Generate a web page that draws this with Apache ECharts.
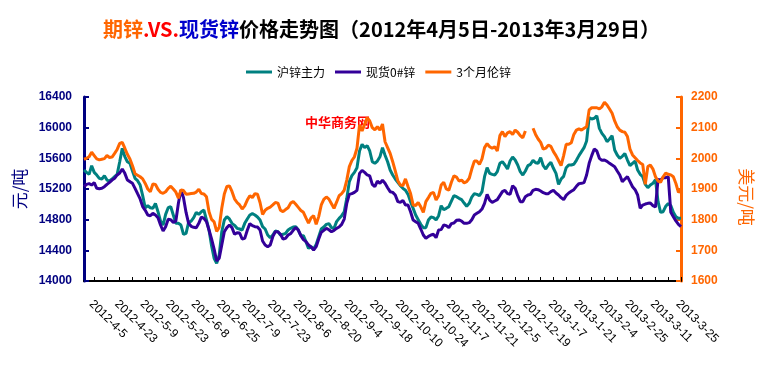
<!DOCTYPE html>
<html>
<head>
<meta charset="utf-8">
<script src="https://cdn.jsdelivr.net/npm/echarts@6/dist/echarts.min.js"></script>
<style>html,body{margin:0;padding:0;background:#fff}#c{width:763px;height:369px}</style>
</head>
<body>
<div id="c"></div>
<script>
// Axis date labels (one every 10 trading days)
const dateLabels = ['2012-4-5','2012-4-23','2012-5-9','2012-5-23','2012-6-8','2012-6-25','2012-7-9','2012-7-23','2012-8-6','2012-8-20','2012-9-4','2012-9-18','2012-10-10','2012-10-24','2012-11-7','2012-11-21','2012-12-5','2012-12-19','2013-1-7','2013-1-21','2013-2-4','2013-2-25','2013-3-11','2013-3-25'];
const seriesNames = ['沪锌主力','现货0#锌','3个月伦锌'];

// 沪锌主力 (元/吨)
const shfeZinc = [
15448,15417,15391,15504,15417,15382,15339,15330,15374,15317,
15304,15330,15361,15391,15556,15730,15622,15556,15535,15435,
15339,15309,15252,15113,14956,14982,14956,14948,15013,14904,
14782,14730,14869,14956,14969,14861,14752,14752,14730,14609,
14622,14765,14782,14826,14895,14869,14904,14926,14796,14665,
14461,14296,14230,14339,14643,14796,14839,14809,14752,14726,
14687,14678,14665,14752,14808,14861,14878,14861,14835,14796,
14709,14678,14600,14565,14600,14652,14643,14600,14609,14622,
14665,14687,14704,14709,14665,14591,14591,14513,14426,14448,
14417,14478,14578,14678,14704,14739,14748,14696,14687,14774,
14817,14852,14904,15078,15296,15374,15417,15478,15696,15783,
15739,15765,15696,15556,15535,15565,15620,15740,15640,15556,
15448,15382,15330,15287,15243,15209,15183,15130,15035,14948,
14861,14800,14739,14696,14696,14796,14835,14826,14796,14852,
14982,14930,14948,14969,15043,15113,15100,15078,15061,15017,
14974,15013,15095,15139,15130,15113,15165,15361,15478,15404,
15391,15382,15426,15535,15556,15513,15461,15565,15617,15578,
15513,15426,15382,15435,15504,15522,15574,15543,15535,15609,
15504,15461,15513,15548,15470,15404,15261,15330,15365,15478,
15513,15513,15522,15574,15635,15687,15739,15826,16130,16113,
16122,16156,15991,15926,15883,15817,15852,15896,15709,15643,
15600,15626,15661,15578,15504,15535,15565,15448,15391,15361,
15261,15217,15252,15274,15322,15035,14896,14904,14974,15009,
14983,14896,14839,14817,14817
];

// 现货0#锌 (元/吨)
const spotZinc = [
15230,15261,15270,15252,15282,15209,15204,15209,15230,15261,
15287,15317,15339,15383,15409,15461,15404,15317,15296,15274,
15209,15139,15070,14970,14922,14861,14852,14882,14861,14826,
14730,14652,14708,14804,14800,14765,14782,15013,15187,15087,
14895,14752,14713,14700,14695,14752,14835,14817,14774,14665,
14548,14417,14261,14296,14470,14643,14696,14730,14696,14609,
14630,14626,14548,14556,14661,14748,14722,14709,14704,14665,
14522,14470,14448,14470,14578,14643,14643,14609,14548,14556,
14600,14617,14661,14696,14665,14591,14539,14513,14470,14443,
14404,14448,14548,14635,14661,14687,14669,14643,14661,14687,
14704,14739,14808,15013,15130,15139,15156,15183,15404,15443,
15417,15383,15370,15261,15230,15304,15274,15313,15274,15217,
15165,15156,15122,15035,15026,15052,14991,14991,14904,14796,
14774,14752,14678,14600,14556,14583,14600,14609,14565,14665,
14670,14730,14722,14696,14748,14756,14791,14796,14782,14752,
14752,14761,14800,14861,14883,14904,14939,15013,15130,15056,
15026,15043,15061,15113,15165,15183,15139,15130,15243,15209,
15113,15035,15035,15100,15122,15130,15183,15196,15191,15174,
15152,15139,15139,15165,15183,15148,15122,15087,15061,15117,
15148,15170,15191,15235,15270,15274,15283,15383,15535,15635,
15722,15696,15600,15574,15578,15561,15535,15513,15491,15435,
15383,15296,15330,15361,15296,15230,15191,15122,14948,14991,
15004,15013,15017,14983,14965,15326,15317,15348,15348,15361,
14896,14839,14783,14739,14709
];

// 3个月伦锌 (美元/吨)
const lmeZinc = [
1997,2000,2005,2020,2009,1998,1995,1997,1999,2009,
2003,2004,2016,2029,2049,2052,2033,2013,1998,1976,
1950,1945,1940,1933,1918,1900,1891,1916,1915,1899,
1889,1886,1891,1902,1909,1900,1890,1870,1897,1895,
1883,1884,1885,1886,1890,1899,1885,1884,1875,1826,
1801,1793,1762,1775,1837,1884,1908,1910,1892,1868,
1856,1848,1835,1845,1864,1878,1872,1885,1883,1856,
1817,1831,1837,1841,1848,1856,1854,1831,1826,1833,
1839,1854,1859,1850,1840,1830,1824,1806,1789,1806,
1813,1785,1810,1848,1866,1874,1867,1852,1837,1857,
1878,1885,1896,1929,1973,1993,2005,2033,2109,2089,
2111,2133,2122,2100,2093,2103,2092,2112,2054,2035,
2016,1989,1959,1927,1913,1911,1933,1908,1885,1848,
1846,1856,1842,1824,1859,1872,1886,1889,1864,1878,
1913,1922,1900,1896,1922,1943,1939,1926,1929,1920,
1924,1935,1965,1991,1991,1980,1998,2035,2048,2038,
2033,2038,2024,2074,2087,2071,2083,2087,2078,2092,
2085,2074,2067,2089,null,null,2098,2078,2063,2052,
2030,2033,2043,2039,2022,2009,1993,1976,2009,2046,
2046,2051,2078,2092,2096,2092,2098,2103,2158,2165,
2165,2165,2161,2168,2183,2174,2161,2147,2122,2103,
2092,2087,2085,2071,2030,2011,2002,1993,1985,1980,
1915,1973,1978,1965,1940,1926,1922,1940,1952,1948,
1946,1940,1918,1889,1897
];

// category axis: each labelled date followed by the unlabelled trading days
const categories = [];
dateLabels.forEach((d, k) => {
  categories.push(d);
  const fill = k < dateLabels.length - 1 ? 9 : lmeZinc.length - 1 - 10 * k;
  for (let j = 0; j < fill; j++) categories.push('');
});

const CJK = '"Noto Sans CJK SC", sans-serif';
const LAT = '"Liberation Sans", Arial, sans-serif';
const NAVY = '#000080', ORANGE = '#FF6600', TEAL = '#008080', PURPLE = '#330099';
const plain = (v) => String(v);

const chart = echarts.init(document.getElementById('c'), null, {renderer: 'canvas'});
chart.setOption({
  animation: false,
  backgroundColor: '#fff',
  title: {
    left: 'center', top: 19, padding: 0,
    text: '{o|期锌}{r|.VS.}{b|现货锌}{k|价格走势图（2012年4月5日-2013年3月29日）}',
    textStyle: {
      rich: {
        o: {color: ORANGE, fontSize: 20, fontWeight: 'bold', fontFamily: CJK},
        r: {color: '#FF0000', fontSize: 20, fontWeight: 'bold', fontFamily: CJK},
        b: {color: '#0000CC', fontSize: 20, fontWeight: 'bold', fontFamily: CJK},
        k: {color: '#000', fontSize: 20, fontWeight: 'bold', fontFamily: CJK}
      }
    }
  },
  legend: {
    left: 241, top: 61, itemWidth: 26, itemHeight: 3, itemGap: 10, icon: 'rect',
    data: seriesNames,
    textStyle: {fontSize: 12, color: '#000', fontFamily: CJK}
  },
  graphic: [{
    type: 'text', left: 305, top: 116,
    style: {text: '中华商务网', fill: '#FF0000', font: 'bold 13px "Noto Sans CJK SC"'}
  }],
  grid: {left: 84, right: 73, top: 97, bottom: 88, containLabel: false},
  xAxis: {
    type: 'category', boundaryGap: false, data: categories,
    axisLine: {onZero: false, lineStyle: {color: '#000', width: 2}},
    axisTick: {inside: true, length: 4, interval: (i) => i % 5 === 4, lineStyle: {color: '#000'}},
    axisLabel: {
      interval: 9, rotate: -45, margin: 14, padding: [0, 0, 0, 10],
      fontSize: 12, color: '#000', fontFamily: LAT
    },
    splitLine: {show: false}
  },
  yAxis: [{
    type: 'value', position: 'left', min: 14000, max: 16400, interval: 400,
    name: '元/吨', nameLocation: 'middle', nameGap: 56,
    nameTextStyle: {color: NAVY, fontSize: 17, fontFamily: CJK},
    axisLine: {show: true, lineStyle: {color: NAVY, width: 3}},
    axisTick: {show: true, inside: true, length: 5, lineStyle: {color: NAVY, width: 2}},
    axisLabel: {color: NAVY, fontSize: 12, fontWeight: 'bold', margin: 12, fontFamily: LAT, formatter: plain},
    splitLine: {show: false}
  }, {
    type: 'value', position: 'right', min: 1600, max: 2200, interval: 100,
    name: '美元/吨', nameLocation: 'middle', nameGap: 57, nameRotate: -90,
    nameTextStyle: {color: ORANGE, fontSize: 17, fontFamily: CJK, padding: [0, 0, 0, 16]},
    axisLine: {show: true, lineStyle: {color: ORANGE, width: 3}},
    axisTick: {show: true, inside: true, length: 5, lineStyle: {color: ORANGE, width: 2}},
    axisLabel: {color: ORANGE, fontSize: 12, fontWeight: 'bold', margin: 10, fontFamily: LAT, formatter: plain},
    splitLine: {show: false}
  }],
  series: [
    {name: seriesNames[0], type: 'line', yAxisIndex: 0, data: shfeZinc, symbol: 'none', color: TEAL, lineStyle: {width: 3, color: TEAL}},
    {name: seriesNames[1], type: 'line', yAxisIndex: 0, data: spotZinc, symbol: 'none', color: PURPLE, lineStyle: {width: 3, color: PURPLE}},
    {name: seriesNames[2], type: 'line', yAxisIndex: 1, data: lmeZinc, symbol: 'none', color: ORANGE, connectNulls: false, lineStyle: {width: 3, color: ORANGE}}
  ]
});
</script>
</body>
</html>
